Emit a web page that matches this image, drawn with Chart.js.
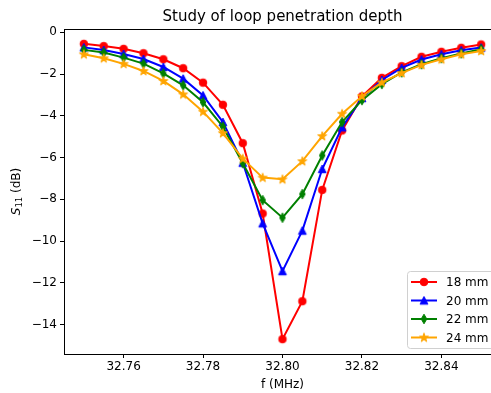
<!DOCTYPE html>
<html>
<head>
<meta charset="utf-8">
<script src="https://cdn.jsdelivr.net/npm/chart.js@4"></script>
<style>
  html, body { margin: 0; padding: 0; overflow: hidden; background: #fff; }
  #wrap { width: 510px; height: 393px; position: relative; }
</style>
</head>
<body>
<div id="wrap"><canvas id="myChart"></canvas></div>
<script>
// frequencies (MHz)
const freqs = [32.750, 32.755, 32.760, 32.765, 32.770, 32.775, 32.780, 32.785, 32.790, 32.795,
               32.800, 32.805, 32.810, 32.815, 32.820, 32.825, 32.830, 32.835, 32.840, 32.845, 32.850];

// S11 (dB) per loop depth
const s18 = [-0.55, -0.66, -0.79, -1.00, -1.29, -1.72, -2.41, -3.47, -5.31, -8.68,
             -14.70, -12.88, -7.55, -4.70, -3.07, -2.18, -1.62, -1.17, -0.93, -0.74, -0.58];
const s20 = [-0.72, -0.85, -1.04, -1.28, -1.66, -2.22, -3.02, -4.30, -6.25, -9.15,
             -11.44, -9.50, -6.55, -4.55, -3.15, -2.28, -1.70, -1.30, -1.05, -0.86, -0.73];
const s22 = [-0.84, -0.97, -1.21, -1.50, -1.97, -2.54, -3.35, -4.52, -6.27, -8.04,
             -8.88, -7.75, -5.90, -4.30, -3.25, -2.48, -1.92, -1.53, -1.24, -1.01, -0.81];
const s24 = [-1.05, -1.24, -1.51, -1.85, -2.33, -2.97, -3.80, -4.83, -6.05, -6.96,
             -7.04, -6.17, -4.97, -3.90, -3.06, -2.40, -1.95, -1.56, -1.29, -1.05, -0.89];

const seriesLabels = ['18 mm', '20 mm', '22 mm', '24 mm'];
const seriesColors = ['red', 'blue', 'green', 'orange'];
const seriesShapes = ['circle', 'triangle', 'thindiamond', 'star'];

const xTicks = [32.76, 32.78, 32.80, 32.82, 32.84];
const yTicks = [0, -2, -4, -6, -8, -10, -12, -14];

Chart.defaults.font.family = 'DejaVu Sans';
Chart.defaults.font.size = 12;
Chart.defaults.color = '#000';

// marker images, roughly like matplotlib's o ^ d *
function makeMarker(shape, color) {
  const c = document.createElement('canvas');
  c.width = 12; c.height = 12;
  const g = c.getContext('2d');
  g.fillStyle = color;
  g.strokeStyle = color;
  g.lineWidth = 1;
  g.beginPath();
  if (shape === 'circle') {
    g.arc(6, 6, 3.8, 0, Math.PI * 2);
  } else if (shape === 'triangle') {
    g.moveTo(6, 2.0); g.lineTo(9.9, 9.7); g.lineTo(2.1, 9.7);
  } else if (shape === 'thindiamond') {
    g.moveTo(6, 1.2); g.lineTo(8.8, 6); g.lineTo(6, 10.8); g.lineTo(3.2, 6);
  } else {
    for (let i = 0; i < 10; i++) {
      const r = i % 2 ? 1.8 : 4.7;
      const a = -Math.PI / 2 + i * Math.PI / 5;
      const px = 6 + r * Math.cos(a), py = 6.3 + r * Math.sin(a);
      if (i === 0) g.moveTo(px, py); else g.lineTo(px, py);
    }
  }
  g.closePath();
  g.fill();
  g.stroke();
  return c;
}

const markers = seriesShapes.map((s, i) => makeMarker(s, seriesColors[i]));
const allSeries = [s18, s20, s22, s24];

const datasets = allSeries.map((vals, i) => ({
  label: seriesLabels[i],
  data: freqs.map((f, j) => ({ x: f, y: vals[j] })),
  borderColor: seriesColors[i],
  backgroundColor: seriesColors[i],
  borderWidth: 2,
  pointStyle: markers[i],
  pointRadius: 4,
  tension: 0,
  order: 3 - i
}));

// frame, title, y label and legend drawn like matplotlib
const framePlugin = {
  id: 'frame',
  afterDraw(chart) {
    const { ctx, chartArea: a } = chart;
    ctx.save();
    ctx.strokeStyle = '#000';
    ctx.lineWidth = 1;
    ctx.strokeRect(Math.round(a.left) + 0.5, Math.round(a.top) + 0.5,
                   Math.round(a.right - a.left), Math.round(a.bottom - a.top));

    ctx.fillStyle = '#000';
    ctx.font = '15px "DejaVu Sans"';
    ctx.textAlign = 'center';
    ctx.textBaseline = 'middle';
    ctx.fillText('Study of loop penetration depth', (a.left + a.right) / 2, 17);

    // y label: italic S with subscript 11
    ctx.save();
    ctx.translate(17, (a.top + a.bottom) / 2);
    ctx.rotate(-Math.PI / 2);
    ctx.textAlign = 'left';
    ctx.textBaseline = 'middle';
    const fS = 'italic 12px "DejaVu Sans"', fSub = '8.5px "DejaVu Sans"', fN = '12px "DejaVu Sans"';
    ctx.font = fS; const wS = ctx.measureText('S').width;
    ctx.font = fSub; const wSub = ctx.measureText('11').width;
    ctx.font = fN; const wRest = ctx.measureText(' (dB)').width;
    let x0 = -(wS + wSub + wRest) / 2;
    ctx.font = fS; ctx.fillText('S', x0, 0); x0 += wS;
    ctx.font = fSub; ctx.fillText('11', x0, 3); x0 += wSub;
    ctx.font = fN; ctx.fillText(' (dB)', x0, 0);
    ctx.restore();

    // legend
    const bx = 407, by = 271, bw = 110, bh = 77;
    ctx.beginPath();
    ctx.roundRect(bx + 0.5, by + 0.5, bw, bh, 3);
    ctx.fillStyle = 'rgba(255,255,255,0.8)';
    ctx.fill();
    ctx.strokeStyle = '#d0d0d0';
    ctx.stroke();
    ctx.font = '12px "DejaVu Sans"';
    ctx.textAlign = 'left';
    seriesLabels.forEach((lab, i) => {
      const yy = 282 + i * 18.5;
      ctx.strokeStyle = seriesColors[i];
      ctx.lineWidth = 2;
      ctx.beginPath();
      ctx.moveTo(411, yy); ctx.lineTo(437, yy);
      ctx.stroke();
      ctx.drawImage(markers[i], 424 - 6, yy - 6);
      ctx.fillStyle = '#000';
      ctx.fillText(lab, 446, yy + 1);
    });
    ctx.restore();
  }
};

const config = {
  type: 'line',
  data: { datasets },
  options: {
    responsive: true,
    maintainAspectRatio: false,
    animation: false,
    layout: { padding: { top: 29, right: 9, left: 0, bottom: 0 } },
    scales: {
      x: {
        type: 'linear',
        min: 32.745,
        max: 32.855,
        afterBuildTicks: s => { s.ticks = xTicks.map(v => ({ value: v })); },
        afterFit: s => { s.height = 39; },
        ticks: { callback: v => v.toFixed(2), padding: 2, maxRotation: 0 },
        grid: { drawOnChartArea: false, drawTicks: true, tickLength: 4, color: '#000' },
        border: { display: true, color: '#000', width: 1 },
        title: { display: true, text: 'f (MHz)', padding: { top: 0, bottom: 1 } }
      },
      y: {
        min: -15.41,
        max: 0.16,
        afterBuildTicks: s => { s.ticks = yTicks.map(v => ({ value: v })); },
        afterFit: s => { s.width = 64; },
        ticks: { callback: v => (v < 0 ? '\u2212' + Math.abs(v) : String(v)), padding: 3 },
        grid: { drawOnChartArea: false, drawTicks: true, tickLength: 4, color: '#000' },
        border: { display: true, color: '#000', width: 1 }
      }
    },
    plugins: {
      legend: { display: false },
      tooltip: { enabled: false }
    }
  },
  plugins: [framePlugin]
};

const myChart = new Chart(document.getElementById('myChart'), config);
</script>
</body>
</html>
